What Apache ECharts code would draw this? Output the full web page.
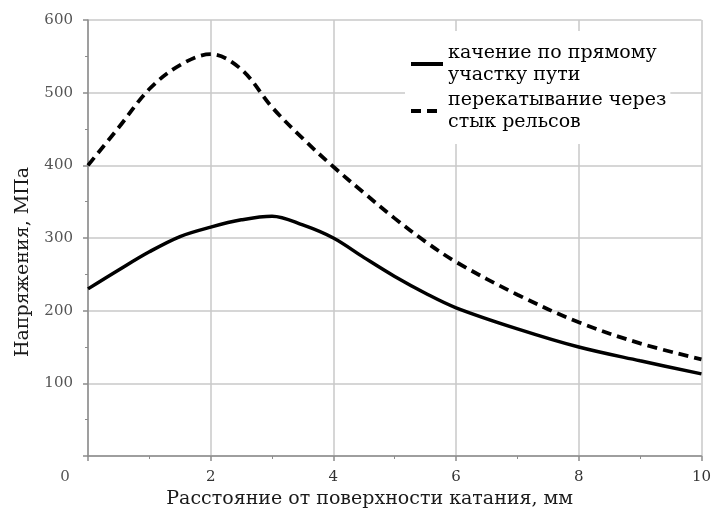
<!DOCTYPE html>
<html><head><meta charset="utf-8">
<script src="https://cdn.jsdelivr.net/npm/echarts@6/dist/echarts.min.js"></script>
<style>html,body{margin:0;padding:0;background:#fff}#c{width:714px;height:515px}</style>
</head><body><div id="c"></div>
<script>
const xValues = [0,0.5,1,1.5,2,2.5,3,3.5,4,4.5,5,5.5,6,7,8,9,10];
const rollingStraight = [230,256,281,302,315,325,330,318,300,273,247,224,204,175,150,131,113];
const rollingJoint = [400,452,505,538,553,532,480,437,398,362,327,295,267,222,184,155,133];
const seriesNames = ['качение по прямому\nучастку пути', 'перекатывание через\nстык рельсов'];
const xTitle = 'Расстояние от поверхности катания, мм';
const yTitle = 'Напряжения, МПа';

const font = 'DejaVu Serif';
const chart = echarts.init(document.getElementById('c'));
const pair = (ys) => xValues.map((x, i) => [x, ys[i]]);
chart.setOption({
  animation: false,
  backgroundColor: '#fff',
  grid: {left: 88, right: 11, top: 20, bottom: 59},
  legend: {
    left: 405, top: 31, orient: 'vertical',
    backgroundColor: '#fff', padding: [0, 4, 0, 4],
    itemWidth: 32, itemHeight: 14, itemGap: -19,
    itemStyle: {opacity: 0},
    lineStyle: {width: 4},
    textStyle: {fontFamily: font, fontSize: 19, color: '#000', lineHeight: 22, padding: [22, 0, 0, 0]},
    data: seriesNames
  },
  xAxis: {
    type: 'value', min: 0, max: 10, interval: 2,
    name: xTitle, nameLocation: 'middle', nameGap: 34,
    nameTextStyle: {fontFamily: font, fontSize: 19, color: '#1a1a1a', padding: [0, 50, 0, 0]},
    axisLine: {show: true, lineStyle: {color: '#8c8c8c', width: 1.5}},
    axisTick: {show: true, length: 5, lineStyle: {color: '#8c8c8c', width: 1.5}},
    minorTick: {show: true, splitNumber: 2, length: 3, lineStyle: {color: '#8c8c8c'}},
    splitLine: {show: true, lineStyle: {color: '#c8c8c8', width: 1.5}},
    axisLabel: {
      fontFamily: font, fontSize: 15, color: '#333', margin: 14,
      formatter: v => v === 0 ? '{z|0}' : String(v),
      rich: {z: {fontFamily: font, fontSize: 15, color: '#555', padding: [0, 46, 0, 0]}}
    }
  },
  yAxis: {
    type: 'value', min: 0, max: 600, interval: 100,
    name: yTitle, nameLocation: 'middle', nameGap: 55,
    nameTextStyle: {fontFamily: font, fontSize: 19, color: '#1a1a1a', padding: [0, 48, 0, 0]},
    axisLine: {show: true, lineStyle: {color: '#8c8c8c', width: 1.5}},
    axisTick: {show: true, length: 5, lineStyle: {color: '#8c8c8c', width: 1.5}},
    minorTick: {show: true, splitNumber: 2, length: 3, lineStyle: {color: '#8c8c8c'}},
    splitLine: {show: true, lineStyle: {color: '#c8c8c8', width: 1.5}},
    axisLabel: {
      fontFamily: font, fontSize: 15, color: '#555', margin: 15,
      formatter: v => v === 0 ? '' : String(v)
    }
  },
  series: [
    {name: seriesNames[0], type: 'line', data: pair(rollingStraight), smooth: 0.35,
     symbol: 'none', lineStyle: {color: '#000', width: 3.5, type: 'solid'}, itemStyle: {color: '#000'}},
    {name: seriesNames[1], type: 'line', data: pair(rollingJoint), smooth: 0.35,
     symbol: 'none', lineStyle: {color: '#000', width: 3.8, type: [10, 6]}, itemStyle: {color: '#000'}}
  ]
});
</script></body></html>
